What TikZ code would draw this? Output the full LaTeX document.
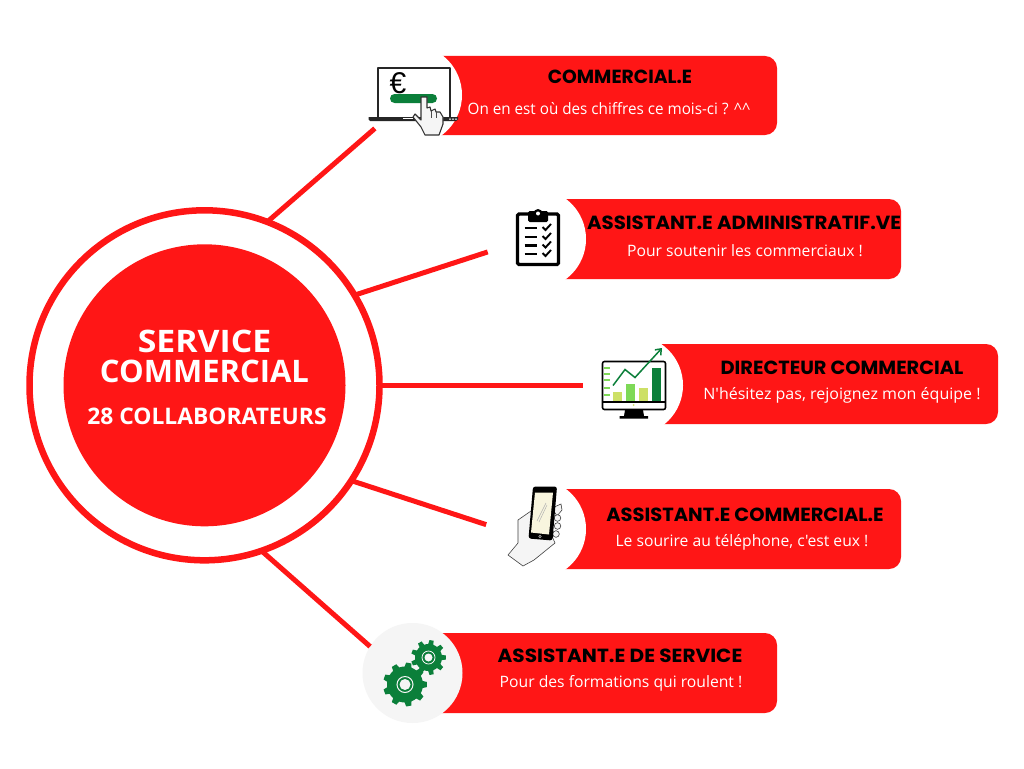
\documentclass[tikz,border=0pt]{standalone}
\usepackage{fontspec}
\usepackage{graphicx}
\setmainfont{Open Sans}
\newfontfamily\headfont{Poppins}
\newfontfamily\bodyfont{Open Sans}
\newfontfamily\titlefont{Open Sans}
\newfontfamily\eurofont{Liberation Sans}
\usetikzlibrary{arrows.meta}
\definecolor{brand}{HTML}{FF1616}
\definecolor{softgrey}{HTML}{F5F5F5}
\definecolor{deepgreen}{HTML}{0B7F3A}
\definecolor{midgreen}{HTML}{7ED957}
\definecolor{limegreen}{HTML}{CDE066}
\definecolor{creamy}{HTML}{F8F5DE}
\tikzset{
  link/.style={draw=brand,line width=5pt},
  iconhalo/.style={circle,fill=white,minimum size=100pt,inner sep=0pt,outer sep=0pt},
  headtext/.style={text=black,font=\headfont\bfseries\fontsize{19}{22}\selectfont,inner sep=0pt},
  subtext/.style={text=white,font=\bodyfont\fontsize{15.7}{18}\selectfont,inner sep=0pt},
  bigtitle/.style={text=white,font=\titlefont\bfseries\fontsize{31}{36}\selectfont,inner sep=0pt},
  midtitle/.style={text=white,font=\titlefont\bfseries\fontsize{22.8}{26}\selectfont,inner sep=0pt},
}
\newcommand{\panel}[4]{\fill[brand] (#1,#2) [rounded corners=12pt] -- (#3,#2) -- (#3,#4) [sharp corners] -- (#1,#4) -- cycle;}
\newcommand{\gearpath}[5]{% cx cy outer inner teeth
  \fill[deepgreen] \foreach \k in {1,...,#5}{
    \ifnum\k=1 ({#1+#4*cos(360*\k/#5-360/#5*0.5)},{#2+#4*sin(360*\k/#5-360/#5*0.5)}) \else -- ({#1+#4*cos(360*\k/#5-360/#5*0.5)},{#2+#4*sin(360*\k/#5-360/#5*0.5)}) \fi
    -- ({#1+#4*cos(360*\k/#5-360/#5*0.28)},{#2+#4*sin(360*\k/#5-360/#5*0.28)})
    -- ({#1+#3*cos(360*\k/#5-360/#5*0.17)},{#2+#3*sin(360*\k/#5-360/#5*0.17)})
    -- ({#1+#3*cos(360*\k/#5+360/#5*0.17)},{#2+#3*sin(360*\k/#5+360/#5*0.17)})
    -- ({#1+#4*cos(360*\k/#5+360/#5*0.28)},{#2+#4*sin(360*\k/#5+360/#5*0.28)})
  } -- cycle;}
\begin{document}
\begin{tikzpicture}[x=1pt,y=-1pt]
\useasboundingbox (0,0) rectangle (1024,768);
\fill[white] (0,0) rectangle (1024,768);

% hub
\node[circle,draw=brand,line width=6.5pt,fill=white,minimum size=350pt,inner sep=0pt,outer sep=0pt] (ring) at (204.5,385.3) {};
\node[circle,fill=brand,minimum size=282pt,inner sep=0pt] (core) at (204.5,385.3) {};

% panels
\panel{412}{56}{777}{135}
\panel{536}{199}{901}{279}
\panel{633}{344}{998}{424}
\panel{536}{489}{901}{569}
\panel{412}{633}{777}{713}

% icon haloes
\node[iconhalo] (iconA) at (412,95) {};
\node[iconhalo] (iconB) at (536,239) {};
\node[iconhalo] (iconC) at (633,385.3) {};
\node[iconhalo] (iconD) at (536,529) {};
\node[iconhalo,fill=softgrey] (iconE) at (412.5,673) {};

% connectors
\draw[link] (ring.69) -- (iconA.222);
\draw[link] (ring.31) -- (iconB.195);
\draw[link] (ring.0) -- (iconC.180);
\draw[link] (ring.-33) -- (iconD.175);
\draw[link] (ring.-71) -- (iconE.148);

% titles
\node[bigtitle] (t1) at (204.5,341) {\scalebox{1.09}[1]{SERVICE}};
\node[bigtitle] (t2) at (204.5,371) {COMMERCIAL};
\node[midtitle] (t3) at (207,416) {28 COLLABORATEURS};

% panel texts
\node[headtext] (h1) at (620,77) {\scalebox{0.99}[1]{COMMERCIAL.E}};
\node[subtext] (s1) at (609,109) {\scalebox{0.97}[1]{On en est où des chiffres ce mois-ci ? \^{}\^{}}};
\node[headtext] (h2) at (744,223) {\scalebox{1.04}[1]{ASSISTANT.E ADMINISTRATIF.VE}};
\node[subtext] (s2) at (745,251) {Pour soutenir les commerciaux !};
\node[headtext] (h3) at (842,368) {\scalebox{1.02}[1]{DIRECTEUR COMMERCIAL}};
\node[subtext] (s3) at (842,395) {\scalebox{1.02}[1]{N'hésitez pas, rejoignez mon équipe !}};
\node[headtext] (h4) at (745,515) {\scalebox{1.024}[1]{ASSISTANT.E COMMERCIAL.E}};
\node[subtext] (s4) at (742,542) {Le sourire au téléphone, c'est eux !};
\node[headtext] (h5) at (620,656) {\scalebox{1.056}[1]{ASSISTANT.E DE SERVICE}};
\node[subtext] (s5) at (621,683) {Pour des formations qui roulent !};

% icon 1: laptop and pointing hand
\fill[white] (378,68) rectangle (450,118);
\draw[draw=black!85,line width=2pt,line join=round] (378,118) -- (378,68) -- (450,68) -- (450,118);
\fill[black!85] (368.5,117) -- (458,117) -- (458,119.5) -- (456,121) -- (370,121) -- (368.5,119.5) -- cycle;
\fill[white] (403,117.5) rectangle (413,118.6);
\node[text=black,font=\eurofont\fontsize{30}{30}\selectfont,inner sep=0pt] (euro) at (398,83) {€};
\fill[deepgreen,rounded corners=4.5pt] (390,94) rectangle (437,103);
\filldraw[fill=softgrey,draw=black!80,line width=1.1pt,line join=round]
  (421,97) -- (427,97) -- (427,108) -- (430,107) -- (431,111) -- (435,109) -- (436,112) -- (440,112) -- (443,117) -- (443,124) -- (439,135) -- (425,135) -- (421,127) -- (413,117) -- (415,114) -- (421,120) -- cycle;
\draw[draw=black!70,line width=0.7pt] (431,111) -- (431,118) (436,112) -- (436,118);
\fill[white] (449,118.5) rectangle (451,119.5) (452,118.5) rectangle (454,119.5) (455,118.5) rectangle (457,119.5);

% icon 2: clipboard
\draw[draw=black,line width=3.2pt,rounded corners=1.5pt,fill=white] (517.5,214) rectangle (558.5,264.5);
\fill[black,rounded corners=1.5pt] (528,211) rectangle (548,222);
\fill[black] (538,213.5) circle (4.5pt);
\fill[white] (538,213.5) circle (2pt);
\foreach \yy in {228,237,245.5,254}{
  \draw[black,line width=2.2pt] (524.5,\yy) -- (537,\yy);
  \draw[black,line width=1.9pt] (542.5,\yy-1) -- (545.5,\yy+2) -- (551,\yy-4);
}

% icon 3: monitor and chart
\fill[black] (625,410) -- (643,410) -- (644,416) -- (648,416) -- (648,418.5) -- (619.5,418.5) -- (619.5,416) -- (624,416) -- cycle;
\draw[draw=black,line width=1.6pt,rounded corners=2pt,fill=white] (602.5,361.5) rectangle (665.5,409.5);
\fill[black] (602.5,401) rectangle (665.5,403);
\fill[limegreen] (633.5,405) circle (1pt);
\foreach \yy in {368,374,380,388,395}{\fill[midgreen] (604,\yy-0.7) rectangle (610,\yy+0.7);}
\fill[limegreen] (613,392) rectangle (622,401);
\fill[midgreen] (626,383.5) rectangle (635,401);
\fill[limegreen] (639,387.5) rectangle (648,401);
\fill[deepgreen] (652,368) rectangle (661,401);
\draw[deepgreen,line width=1.5pt,-{Straight Barb[length=5pt,width=8pt]}] (613,385.5) -- (625,369.5) -- (635,377.5) -- (662,348);

% icon 4: hand holding phone
\filldraw[fill=softgrey,draw=black!75,line width=0.6pt,line join=round]
  (508,555) -- (518,543) -- (518,520) -- (531,511) -- (545,520) -- (555,543) -- (534,560) -- (523,566) -- cycle;
\filldraw[fill=softgrey,draw=black!75,line width=0.6pt] (552,508) -- (561,504) -- (562,510) -- (557,516) -- cycle;
\foreach \yy/\xx in {518/557.5,526/557.5,534/556}{
  \filldraw[fill=softgrey,draw=black!75,line width=0.6pt] (\xx,\yy) circle (3.3pt);
}
\fill[black,rounded corners=2.5pt] (533,486.5) -- (557,486.5) -- (552.5,540.5) -- (528.5,538.5) -- cycle;
\fill[creamy] (535,492.5) -- (553,492.5) -- (549,534.5) -- (531,532.5) -- cycle;
\draw[black!30,line width=0.5pt] (537,521) -- (546,503);
\draw[black!30,line width=0.5pt] (539,522) -- (547,505);
\draw[white!75!black,line width=0.5pt] (540,536.5) circle (1.3pt);

% icon 5: gears
\gearpath{405}{684.5}{22}{18}{9}
\gearpath{428.5}{657.5}{17.5}{13.5}{9}
\draw[softgrey,line width=1pt] (405,684.5) circle (8pt);
\fill[softgrey] (405,684.5) circle (5.5pt);
\draw[softgrey,line width=0.8pt] (428.5,657.5) circle (6.5pt);
\fill[softgrey] (428.5,657.5) circle (4pt);
\end{tikzpicture}
\end{document}
